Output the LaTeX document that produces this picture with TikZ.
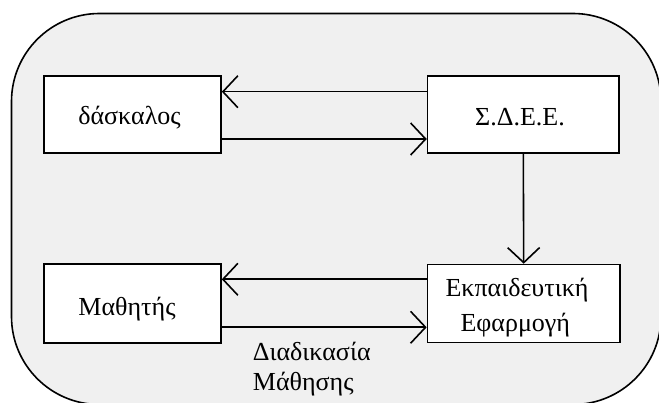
\documentclass[tikz,border=0pt]{standalone}
\usepackage{fontspec}
\setmainfont{Liberation Serif}
\usetikzlibrary{arrows.meta}
\definecolor{panel}{RGB}{240,240,240}
\begin{document}
\begin{tikzpicture}[x=1pt,y=-1pt,
  box/.style={draw=black, line width=1.6pt, fill=white, inner sep=0pt},
  txt/.style={inner sep=0pt, anchor=base, font=\fontsize{26}{30}\selectfont},
  arr/.style={line width=1.6pt, -{Straight Barb[length=15pt,width=32pt,line width=1.6pt]}}]
\useasboundingbox (0,0) rectangle (659,403);
\fill[white] (0,0) rectangle (659,403);
\begin{scope}
\clip (0,0) rectangle (659,403);
\draw[line width=1.6pt, fill=panel, rounded corners=88pt] (11.5,13.5) rectangle (661,404.5);
\end{scope}
\node[box, minimum width=177pt, minimum height=77pt] (dask) at (132.5,114.5) {};
\node[box, minimum width=191.5pt, minimum height=77pt] (sdee) at (523.3,114.5) {};
\node[box, minimum width=177pt, minimum height=79pt] (math) at (132.5,303.5) {};
\node[box, minimum width=192.5pt, minimum height=78pt] (efar) at (523.7,303.5) {};
\node[txt] (daskT) at ([xshift=-3pt,yshift=-10.5pt]dask.center) {δάσκαλος};
\node[txt] (sdeeT) at ([xshift=-3.3pt,yshift=-11.2pt]sdee.center) {Σ.Δ.Ε.Ε.};
\node[txt] (mathT) at ([xshift=-5.5pt,yshift=-11.8pt]math.center) {Μαθητής};
\node[txt] (efarT1) at ([xshift=-6.7pt,yshift=6.8pt]efar.center) {Εκπαιδευτική};
\node[txt] (efarT2) at ([xshift=-8.4pt,yshift=-28.2pt]efar.center) {Εφαρμογή};
\draw[arr] ([yshift=22.8pt]sdee.west) -- ([yshift=22.8pt]dask.east);
\draw[arr] ([yshift=-24.5pt]dask.east) -- ([yshift=-24.5pt]sdee.west);
\draw[arr] (sdee.south) -- (efar.north);
\draw[arr] ([yshift=24.2pt]efar.west) -- ([yshift=24.2pt]math.east);
\draw[arr] ([yshift=-23.8pt]math.east) -- ([yshift=-23.8pt]efar.west);
\node[txt, anchor=base west] (proc1) at (252.7,360.7) {Διαδικασία};
\node[txt, anchor=base west] (proc2) at (252.7,390.7) {Μάθησης};
\end{tikzpicture}
\end{document}
